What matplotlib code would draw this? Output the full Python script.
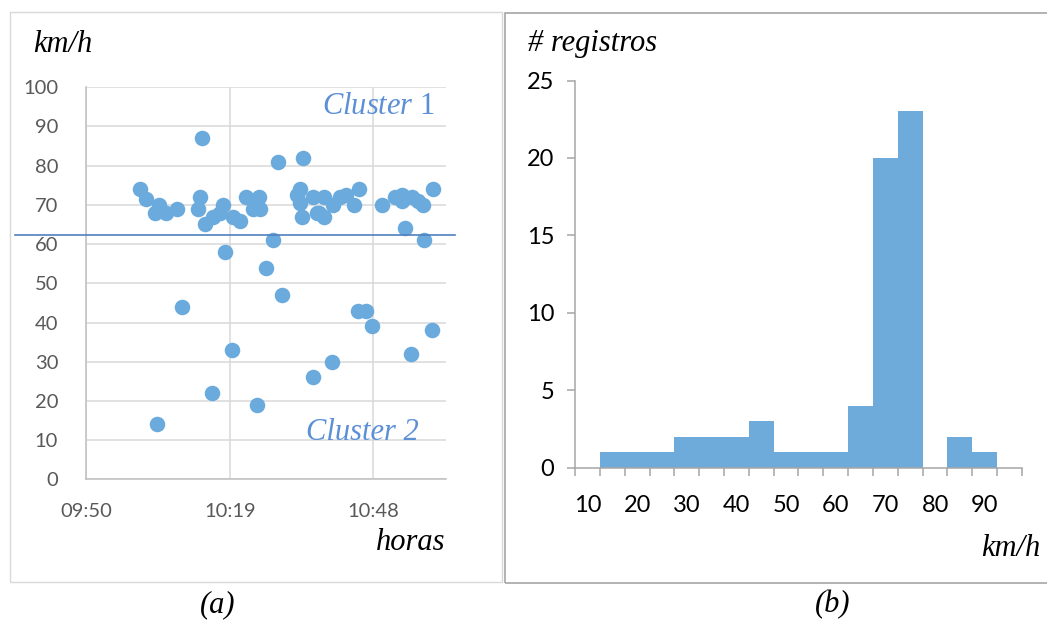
import numpy as np
import matplotlib
matplotlib.use("Agg")
import matplotlib.pyplot as plt
from matplotlib.patches import Rectangle

# (a) speed records: minutes after 09:50 and speed (km/h)
minutos = [11.2, 12.4, 15.0, 14.2, 16.4, 18.6, 23.7, 23.2, 22.9, 24.2,
           25.8, 27.3, 27.9, 29.8, 31.3, 32.4, 33.9, 35.1, 28.3, 37.9,
           36.5, 38.9, 43.8, 43.2, 42.6, 43.3, 43.6, 45.9, 46.6, 48.0,
           48.0, 50.0, 51.3, 52.6, 54.1, 55.2, 59.8, 62.3, 63.7, 63.7,
           65.7, 67.0, 68.0, 70.0, 64.3, 68.2, 19.7, 39.6, 55.0, 56.5,
           57.7, 69.7, 29.7, 65.5, 49.8, 45.8, 25.7, 34.7, 14.7, 47.0,
           35.3]
kmh = [74, 71.5, 70, 68, 68, 69, 87, 72, 69, 65,
       67, 68, 70, 67, 66, 72, 69, 72, 58, 61,
       54, 81, 82, 74, 72.5, 70.5, 67, 72, 68, 72,
       67, 70, 72, 72.5, 70, 74, 70, 72, 72.5, 71,
       72, 71, 70, 74, 64, 61, 44, 47, 43, 43,
       39, 38, 33, 32, 30, 26, 22, 19, 14, 68,
       69]
media = 62.2
hora_ticks = [0.4, 29.2, 58.0]
hora_labels = ["09:50", "10:19", "10:48"]

# (b) histogram of speeds
clases = [10, 15, 20, 25, 30, 35, 40, 45, 50, 55, 60, 65, 70, 75, 80, 85, 90, 95]
registros = [0, 1, 1, 1, 2, 2, 2, 3, 1, 1, 1, 4, 20, 23, 0, 2, 1, 0]

azul = "#6aaadc"
serif = "Liberation Serif"
sans = "Lato"

plt.rcParams["mathtext.fontset"] = "custom"
plt.rcParams["mathtext.it"] = "Liberation Serif:italic"
plt.rcParams["mathtext.rm"] = "Liberation Serif"

W, H = 1047, 621
fig = plt.figure(figsize=(W / 100, H / 100), dpi=100)

def fx(px):
    return px / W

def fy(py):
    return 1 - py / H

# panel frames
fig.patches.append(Rectangle((fx(10), fy(582)), fx(492), 570 / H, transform=fig.transFigure,
                             fill=False, edgecolor="#d9d9d9", lw=1.0))
fig.patches.append(Rectangle((fx(505), fy(583)), fx(560), 570 / H, transform=fig.transFigure,
                             fill=False, edgecolor="#a6a6a6", lw=1.2))

# ---- (a) scatter ----
ax1 = fig.add_axes([fx(86), fy(479.3), fx(446 - 86), (479.3 - 87.3) / H])
ax1.scatter(minutos, kmh, s=125, color=azul, zorder=3, linewidths=0)
ax1.set_xlim(0.4, 72.55)
ax1.set_ylim(0, 100)
ax1.set_yticks(np.arange(0, 101, 10))
ax1.set_xticks(hora_ticks)
ax1.set_xticklabels(hora_labels)
ax1.grid(True, color="#d9d9d9", lw=1.1, zorder=0)
ax1.set_axisbelow(True)
for s in ["top", "right"]:
    ax1.spines[s].set_visible(False)
for s in ["left", "bottom"]:
    ax1.spines[s].set_color("#bfbfbf")
    ax1.spines[s].set_linewidth(1.1)
ax1.tick_params(length=0, labelsize=14.5, labelcolor="#595959")
ax1.tick_params(axis="y", pad=20)
ax1.tick_params(axis="x", pad=17)
for lab in ax1.get_xticklabels() + ax1.get_yticklabels():
    lab.set_fontfamily(sans)
ax1.axhline(media, xmin=(15 - 86) / 360, xmax=(455 - 86) / 360, color="#4f81bd",
            lw=1.2, clip_on=False, zorder=4)
ax1.text(0.97, 0.95, "$\\mathit{Cluster}$ 1", transform=ax1.transAxes, ha="right", va="center",
         fontsize=22, color="#5b8fd6", family=serif)
ax1.text(0.925, 0.12, "Cluster 2", transform=ax1.transAxes, ha="right", va="center",
         fontsize=22, color="#5b8fd6", family=serif, style="italic")

fig.text(fx(33), fy(45), "km/h", fontsize=22, family=serif, style="italic", va="center")
fig.text(fx(445), fy(542), "horas", fontsize=22, family=serif, style="italic", va="center", ha="right")
fig.text(fx(218), fy(605), "(a)", fontsize=22, family=serif, style="italic", va="center", ha="center")

# ---- (b) histogram ----
ax2 = fig.add_axes([fx(575), fy(467.7), fx(1022 - 575), (467.7 - 80.5) / H])
pos = np.arange(len(clases))
ax2.bar(pos, registros, width=1.0, color="#6eabdb", edgecolor="none")
ax2.set_xlim(-0.5, len(clases) - 0.5)
ax2.set_ylim(0, 25)
ax2.set_yticks(np.arange(0, 26, 5))
ax2.set_xticks(pos[::2])
ax2.set_xticklabels([str(c) for c in clases[::2]])
ax2.set_xticks(np.arange(-0.5, len(clases)), minor=True)
for s in ["top", "right"]:
    ax2.spines[s].set_visible(False)
for s in ["left", "bottom"]:
    ax2.spines[s].set_color("#a6a6a6")
    ax2.spines[s].set_linewidth(1.1)
ax2.tick_params(axis="x", which="major", length=0, labelsize=17, pad=20)
ax2.tick_params(axis="x", which="minor", length=6, color="#a6a6a6", width=1.1)
ax2.tick_params(axis="y", length=6, color="#a6a6a6", width=1.1, labelsize=17, pad=9)
for lab in ax2.get_xticklabels() + ax2.get_yticklabels():
    lab.set_fontfamily(sans)

fig.text(fx(528), fy(44), "# registros", fontsize=22, family=serif, style="italic", va="center")
fig.text(fx(1040), fy(548), "km/h", fontsize=22, family=serif, style="italic", va="center", ha="right")
fig.text(fx(833), fy(605), "(b)", fontsize=22, family=serif, style="italic", va="center", ha="center")

fig.savefig("out.png", dpi=100)
